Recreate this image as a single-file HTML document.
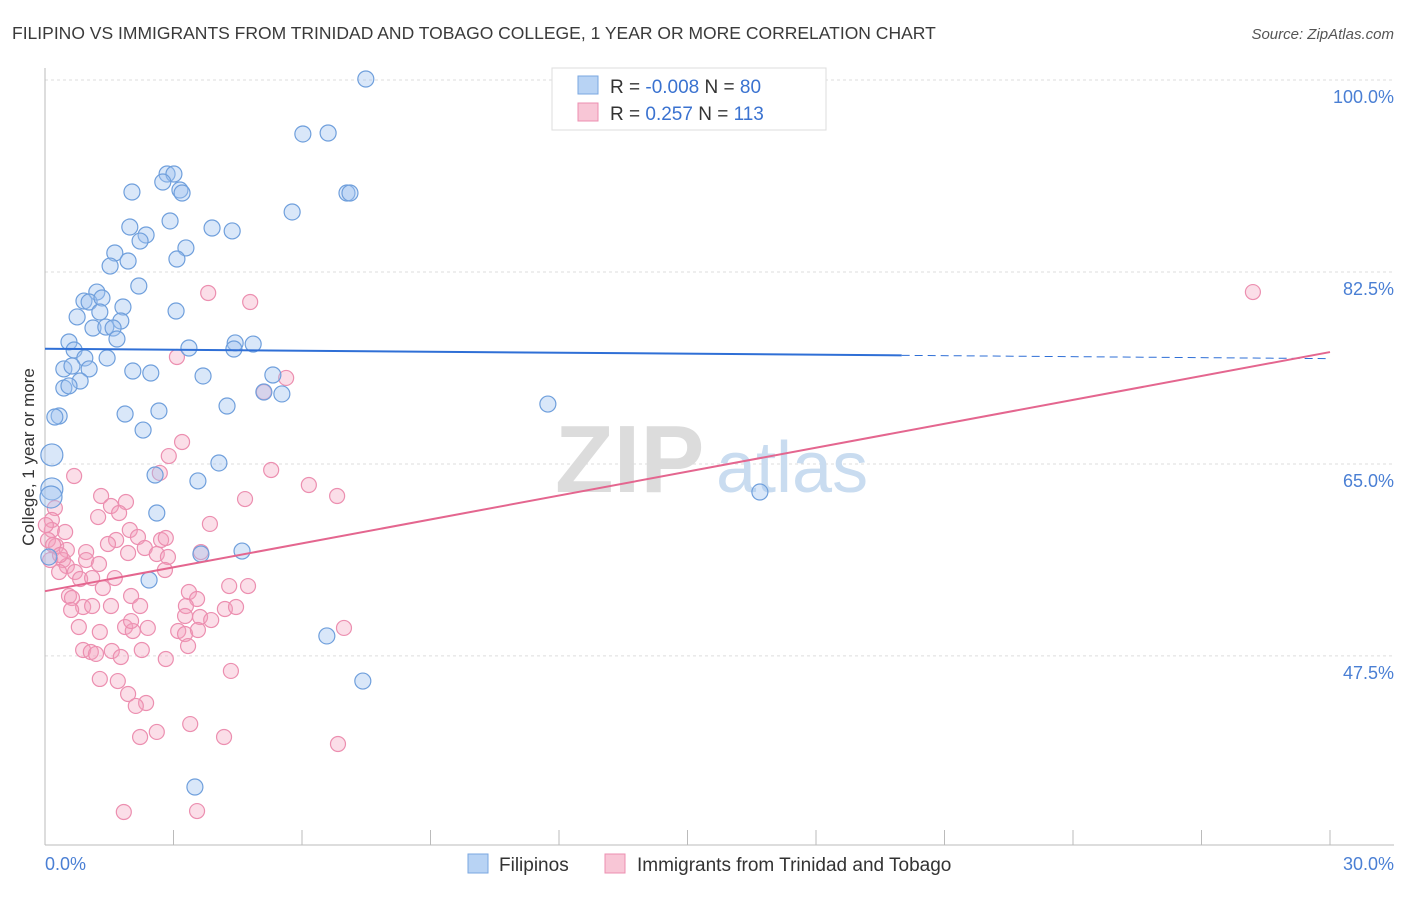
<!DOCTYPE html>
<html><head><meta charset="utf-8">
<style>
body{margin:0;background:#fff;font-family:"Liberation Sans",sans-serif;}
svg text{font-family:"Liberation Sans",sans-serif;}
</style></head>
<body>
<svg id="chart" width="1406" height="892" xmlns="http://www.w3.org/2000/svg">
<text x="12" y="39" font-size="17.5" fill="#3a3a3a">FILIPINO VS IMMIGRANTS FROM TRINIDAD AND TOBAGO COLLEGE, 1 YEAR OR MORE CORRELATION CHART</text>
<text x="1394" y="39" font-size="15" fill="#555" text-anchor="end" font-style="italic">Source: ZipAtlas.com</text>
<g id="grid"></g>
<g>
<text x="555" y="492" font-size="96" font-family="Liberation Serif" fill="#dcdcdc" font-weight="bold">ZIP</text>
<text x="716" y="492" font-size="72" fill="#c9dcf0">atlas</text>
</g>
<g id="pts"></g>
<g id="trend"></g>
<text transform="translate(34,457) rotate(-90)" font-size="17" fill="#333" text-anchor="middle">College, 1 year or more</text>
<text x="45" y="870" font-size="18" fill="#4a7fd4">0.0%</text>
<text x="1394" y="870" font-size="18" fill="#4a7fd4" text-anchor="end">30.0%</text>
<g>
<rect x="552" y="68" width="274" height="62" fill="#fff" stroke="#ddd"/>
<rect x="578" y="76" width="20" height="18" fill="#b8d3f4" stroke="#7aa7e0"/>
<rect x="578" y="103" width="20" height="18" fill="#f8c6d6" stroke="#ec8fb0"/>
<text x="610" y="93" font-size="19" fill="#333">R = <tspan fill="#3a72d0">-0.008</tspan>   N = <tspan fill="#3a72d0">80</tspan></text>
<text x="610" y="120" font-size="19" fill="#333">R =    <tspan fill="#3a72d0">0.257</tspan>   N = <tspan fill="#3a72d0">113</tspan></text>
</g>
<g>
<rect x="468" y="854" width="20" height="19" fill="#b8d3f4" stroke="#7aa7e0"/>
<text x="499" y="871" font-size="19" fill="#333">Filipinos</text>
<rect x="605" y="854" width="20" height="19" fill="#f8c6d6" stroke="#ec8fb0"/>
<text x="637" y="871" font-size="19" fill="#333">Immigrants from Trinidad and Tobago</text>
</g>
</svg>
<script>
const yTicks=[100,82.5,65,47.5];
const yTickLabels=["100.0%","82.5%","65.0%","47.5%"];
const blueX=[];const blueY=[];
const bluePx=[[366,79],[303,134],[328,133],[167,174],[174,174],[163,182],[132,192],[180,190],[182,193],[347,193],[350,193],[292,212],[170,221],[130,227],[212,228],[232,231],[146,235],[140,241],[186,248],[115,253],[177,259],[128,261],[110,266],[139,286],[97,292],[84,301],[89,302],[102,298],[123,307],[176,311],[100,312],[77,317],[121,321],[93,328],[106,327],[113,328],[117,339],[69,342],[74,350],[189,348],[235,343],[234,349],[253,344],[107,358],[85,358],[64,369],[72,366],[89,369],[133,371],[151,373],[203,376],[273,375],[80,381],[64,388],[69,386],[264,392],[282,394],[548,404],[59,416],[55,417],[125,414],[159,411],[227,406],[143,430],[155,475],[219,463],[198,481],[52,455],[52,489],[51,497],[760,492],[157,513],[242,551],[201,554],[149,580],[327,636],[363,681],[195,787],[49,557]];
const pinkPx=[[1253,292],[208,293],[250,302],[177,357],[286,378],[264,392],[182,442],[74,476],[169,456],[160,473],[271,470],[309,485],[337,496],[101,496],[245,499],[126,502],[111,506],[119,513],[98,517],[210,524],[130,530],[55,508],[52,520],[52,530],[65,532],[48,540],[56,546],[67,550],[86,552],[116,540],[138,537],[161,540],[166,538],[108,544],[145,548],[86,560],[99,564],[128,553],[157,554],[168,557],[201,552],[63,560],[67,566],[75,572],[59,572],[80,579],[92,578],[115,578],[165,570],[103,588],[69,596],[72,598],[83,607],[92,606],[131,596],[189,592],[197,599],[229,586],[248,586],[71,610],[111,606],[140,606],[186,606],[185,616],[200,617],[225,609],[236,607],[79,627],[100,632],[125,627],[133,631],[148,628],[178,631],[185,634],[211,620],[198,630],[188,646],[344,628],[131,621],[83,650],[91,652],[96,654],[112,651],[121,657],[142,650],[166,659],[231,671],[100,679],[118,681],[128,694],[146,703],[136,706],[157,732],[140,737],[190,724],[224,737],[338,744],[124,812],[197,811],[50,560],[46,525],[53,545],[60,555]];
// data values (percent) derived from reading the picture
const blueXs=bluePx.map(p=>+((p[0]-45)*30/1285).toFixed(2));
const blueYs=bluePx.map(p=>+(100-(p[1]-80)/10.97).toFixed(2));
const pinkXs=pinkPx.map(p=>+((p[0]-45)*30/1285).toFixed(2));
const pinkYs=pinkPx.map(p=>+(100-(p[1]-80)/10.97).toFixed(2));
const blueTrend=[75.5,74.9,74.6];
const pinkTrend=[53.4,75.2];
function X(v){return 45+v/30*1285;}
function Y(v){return 80+(100-v)*10.97;}
const NS="http://www.w3.org/2000/svg";
function mk(t,a,p){const e=document.createElementNS(NS,t);for(const k in a)e.setAttribute(k,a[k]);p.appendChild(e);return e;}
const grid=document.getElementById('grid');
yTicks.forEach((t,i)=>{
 const l=mk('line',{x1:45,x2:1394,y1:Y(t),y2:Y(t),stroke:'#ddd','stroke-dasharray':'3,3'},grid);
 
 
 const tx=mk('text',{x:1394,y:Y(t)+23,'font-size':18,fill:'#4a7fd4','text-anchor':'end'},grid);
 tx.textContent=yTickLabels[i];
 
 
});
const ax=mk('line',{x1:45,x2:45,y1:68,y2:845,stroke:'#bbb'},grid);


const bx=mk('line',{x1:45,x2:1394,y1:845,y2:845,stroke:'#bbb'},grid);


for(let i=0;i<=10;i++){const t=mk('line',{x1:X(i*3),x2:X(i*3),y1:830,y2:845,stroke:'#bbb'},grid);
 
 }
const pts=document.getElementById('pts');
pinkXs.forEach((x,i)=>{const c=mk('circle',{cx:X(x),cy:Y(pinkYs[i]),r:7.5,fill:'rgba(244,160,190,0.35)',stroke:'#ec8fb0','stroke-width':1.2},pts);
 
 });
blueXs.forEach((x,i)=>{const c=mk('circle',{cx:X(x),cy:Y(blueYs[i]),r:(x<0.4&&blueYs[i]>60&&blueYs[i]<66)?11:8,fill:'rgba(160,196,240,0.4)',stroke:'#6f9fdc','stroke-width':1.2},pts);
 
 });
const tr=document.getElementById('trend');
const b1=mk('line',{x1:X(0),y1:Y(blueTrend[0]),x2:X(20),y2:Y(blueTrend[1]),stroke:'#2f6fd6','stroke-width':2},tr);


const b2=mk('line',{x1:X(20),y1:Y(blueTrend[1]),x2:X(30),y2:Y(blueTrend[2]),stroke:'#2f6fd6','stroke-width':1,'stroke-dasharray':'8,5'},tr);


const p1=mk('line',{x1:X(0),y1:Y(pinkTrend[0]),x2:X(30),y2:Y(pinkTrend[1]),stroke:'#e4668f','stroke-width':2},tr);


</script>
</body></html>
